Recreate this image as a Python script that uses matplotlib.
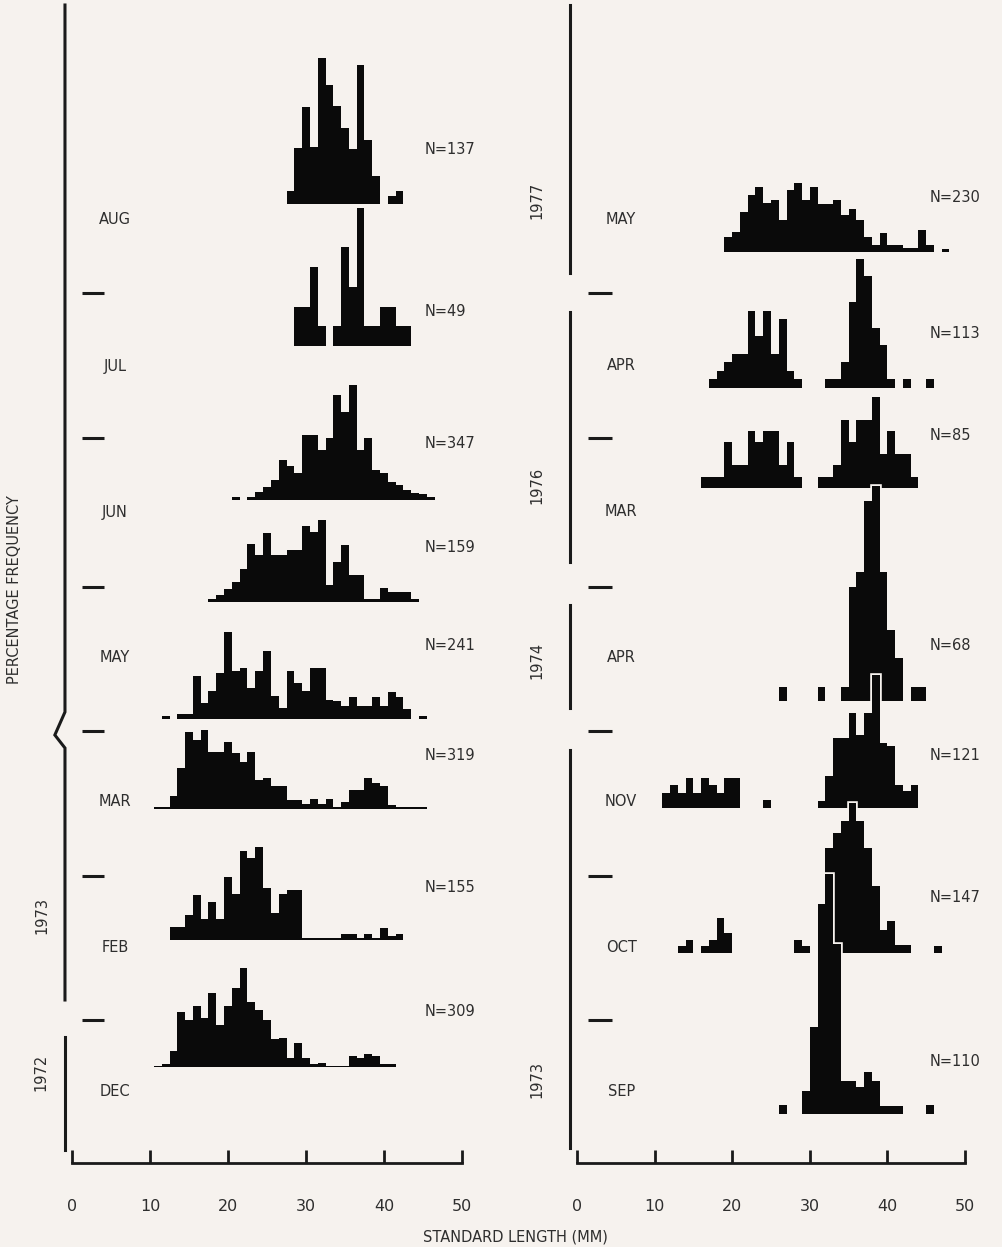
import numpy as np
import matplotlib
matplotlib.use("Agg")
import matplotlib.pyplot as plt

# ------------------------------------------------------------------
# DATA  (percentage frequency per 1-mm standard-length class)
# each histogram: lower edge of first class (mm) + list of class values
# ------------------------------------------------------------------
# left panel (1972-1973)
aug_start = 27.5
aug_pct = [1.3, 5.6, 9.7, 5.7, 14.6, 11.9, 9.8, 7.6, 5.5, 13.9, 6.4, 2.8, 0, 0.8, 1.3]
jul_start = 28.5
jul_pct = [3.9, 3.9, 7.9, 2.0, 0, 2.0, 9.9, 5.9, 13.8, 2.0, 2.0, 3.9, 3.9, 2.0, 2.0]
jun_start = 20.5
jun_pct = [0.3, 0, 0.3, 0.8, 1.3, 2.0, 4.0, 3.4, 2.7, 6.5, 6.5, 5.0, 6.2, 10.5, 8.8,
           11.5, 5.0, 6.2, 3.0, 2.7, 1.8, 1.5, 1.0, 0.7, 0.6, 0.3]
may2_start = 17.5
may2_pct = [0.3, 0.7, 1.3, 2.0, 3.3, 5.8, 4.7, 6.9, 4.7, 4.7, 5.2, 5.2, 7.6, 7.0, 8.2,
            1.7, 4.0, 5.7, 2.7, 2.7, 0.3, 0.3, 1.4, 1.0, 1.0, 1.0, 0.3]
may_start = 11.5
may_pct = [0.3, 0, 0.5, 0.5, 4.3, 1.6, 2.8, 4.6, 8.7, 4.8, 5.1, 3.1, 4.8, 6.8, 2.3,
           1.1, 4.8, 3.6, 2.8, 5.1, 5.1, 1.9, 1.8, 1.3, 2.2, 1.3, 1.3, 2.2, 1.3, 2.7,
           2.2, 1.0, 0, 0.3]
mar_start = 10.5
mar_pct = [0.2, 0.2, 1.3, 4.1, 7.7, 6.9, 7.9, 5.7, 5.7, 6.7, 5.6, 4.7, 5.7, 2.9, 3.1,
           2.3, 2.3, 0.9, 0.9, 0.5, 1.0, 0.5, 1.0, 0.2, 0.7, 1.9, 1.9, 3.1, 2.6, 2.3,
           0.4, 0.2, 0.2, 0.2, 0.2]
feb_start = 12.5
feb_pct = [1.3, 1.3, 2.5, 4.5, 2.1, 3.8, 2.1, 6.3, 4.6, 8.9, 8.2, 9.3, 5.2, 2.7, 4.6,
           5.0, 5.0, 0.2, 0.2, 0.2, 0.2, 0.2, 0.6, 0.6, 0.2, 0.6, 0.2, 1.2, 0.4, 0.6]
dec_start = 10.5
dec_pct = [0.15, 0.3, 1.6, 5.5, 4.7, 6.1, 4.9, 7.4, 4.2, 6.1, 7.9, 9.9, 6.5, 5.7, 4.7,
           2.8, 2.9, 0.9, 2.4, 0.9, 0.3, 0.4, 0.15, 0.15, 0.15, 1.1, 0.9, 1.3, 1.1, 0.3, 0.3]

# right panel (1973-1977)
may77_start = 19
may77_pct = [1.5, 2.0, 4.0, 5.7, 6.5, 4.9, 5.2, 3.2, 6.2, 6.9, 5.2, 6.5, 4.8, 4.8, 5.2,
             3.7, 4.3, 3.2, 1.5, 0.7, 1.9, 0.7, 0.7, 0.4, 0.4, 2.2, 0.7, 0, 0.3]
apr76_start = 17
apr76_pct = [0.9, 1.7, 2.6, 3.4, 3.4, 7.7, 5.2, 7.7, 3.4, 6.9, 1.7, 0.9, 0, 0, 0,
             0.9, 0.9, 2.6, 8.6, 12.9, 11.2, 6.0, 4.3, 0.9, 0, 0.9, 0, 0, 0.9]
mar76_start = 16
mar76_pct = [1.1, 1.1, 1.1, 4.6, 2.3, 2.3, 5.7, 4.6, 5.7, 5.7, 2.3, 4.6, 1.1, 0, 0,
             1.1, 1.1, 2.3, 6.8, 4.6, 6.8, 6.8, 9.1, 3.4, 5.7, 3.4, 3.4, 1.1]
apr74_start = 26
apr74_pct = [1.4, 0, 0, 0, 0, 1.4, 0, 0, 1.4, 11.4, 12.9, 20.0, 21.5, 12.9, 7.1, 4.3,
             0, 1.4, 1.4]
nov73_start = 11
nov73_pct = [1.5, 2.3, 1.5, 3.0, 1.5, 3.0, 2.3, 1.5, 3.0, 3.0, 0, 0, 0, 0.8, 0, 0, 0,
             0, 0, 0, 0.7, 3.2, 7.0, 7.0, 9.5, 7.3, 9.5, 13.3, 6.5, 6.2, 2.3, 1.7, 2.3]
oct73_start = 13
oct73_pct = [0.7, 1.3, 0, 0.7, 1.3, 3.5, 2.0, 0, 0, 0, 0, 0, 0, 0, 0, 1.3, 0.7, 0, 0,
             10.5, 12.0, 13.2, 15.0, 13.2, 10.5, 6.7, 2.3, 3.2, 0.8, 0.8, 0, 0, 0, 0.7]
sep73_start = 26
sep73_pct = [0.9, 0, 0, 2.3, 8.7, 21.0, 24.0, 17.0, 3.3, 3.3, 2.7, 4.2, 3.3, 0.8,
             0.8, 0.8, 0, 0, 0, 0.9]

left_months = ["AUG", "JUL", "JUN", "MAY", "MAR", "FEB", "DEC"]
right_months = ["MAY", "APR", "MAR", "APR", "NOV", "OCT", "SEP"]
left_n = ["N=137", "N=49", "N=347", "N=159", "N=241", "N=319", "N=155", "N=309"]
right_n = ["N=230", "N=113", "N=85", "N=68", "N=121", "N=147", "N=110"]
x_ticks = [0, 10, 20, 30, 40, 50]

# ------------------------------------------------------------------
# LAYOUT
# ------------------------------------------------------------------
W, H, DPI = 1003, 1247, 100
BG = "#f6f2ee"
INK = "#0a0a0a"
TXT = "#2e2e2e"
AXIS_Y = 1163          # pixel row of the length axis
PXU = 10.0             # pixels per percent unit
FS = 10.5

plt.rcParams["font.family"] = ["DejaVu Sans"]

fig = plt.figure(figsize=(W / DPI, H / DPI), dpi=DPI, facecolor=BG)


def make_panel(zero_px, px_per_mm, xlo=-2.5, xhi=54):
    x0 = zero_px + xlo * px_per_mm
    x1 = zero_px + xhi * px_per_mm
    ax = fig.add_axes([x0 / W, (H - AXIS_Y) / H, (x1 - x0) / W, AXIS_Y / H])
    ax.set_xlim(xlo, xhi)
    ax.set_ylim(0, AXIS_Y / PXU)
    ax.patch.set_alpha(0)
    for s in ("left", "right", "top"):
        ax.spines[s].set_visible(False)
    ax.spines["bottom"].set_bounds(0, 50)
    ax.spines["bottom"].set_linewidth(2.0)
    ax.spines["bottom"].set_color("#1a1a1a")
    ax.set_yticks([])
    ax.set_xticks(x_ticks)
    ax.set_xticklabels([str(t) for t in x_ticks])
    ax.tick_params(axis="x", direction="in", length=9.5, width=2.0, color="#1a1a1a",
                   pad=26, labelsize=11.5, labelcolor=TXT)
    return ax


def yv(py):
    return (AXIS_Y - py) / PXU


axL = make_panel(72, 7.8)
axR = make_panel(577, 7.76)


def draw_hists(ax, hists, baselines_px):
    for i, ((start, vals), bpx) in enumerate(zip(hists, baselines_px)):
        v = np.asarray(vals, dtype=float)
        edges = start + np.arange(len(v) + 1)
        off = yv(bpx)
        ax.stairs(v + off, edges, baseline=off, fill=False, color=BG, lw=2.6,
                  zorder=2 + 2 * i)
        ax.stairs(v + off, edges, baseline=off, fill=True, color=INK, lw=0,
                  zorder=3 + 2 * i)


left_hists = [(aug_start, aug_pct), (jul_start, jul_pct), (jun_start, jun_pct),
              (may2_start, may2_pct), (may_start, may_pct), (mar_start, mar_pct),
              (feb_start, feb_pct), (dec_start, dec_pct)]
left_base = [204, 346, 500, 602, 719, 809, 940, 1067]
right_hists = [(may77_start, may77_pct), (apr76_start, apr76_pct),
               (mar76_start, mar76_pct), (apr74_start, apr74_pct),
               (nov73_start, nov73_pct), (oct73_start, oct73_pct),
               (sep73_start, sep73_pct)]
right_base = [252, 388, 488, 701, 808, 953, 1114]

draw_hists(axL, left_hists, left_base)
draw_hists(axR, right_hists, right_base)

# month labels and short tick dashes
month_y = [220, 366, 512, 657, 802, 947, 1092]
dash_y = [293, 438, 587, 731, 876, 1020]
for ax, months, xm, (d0, d1) in ((axL, left_months, 5.5, (1.3, 4.1)),
                                  (axR, right_months, 5.7, (1.4, 4.5))):
    for m, y in zip(months, month_y):
        ax.text(xm, yv(y), m, ha="center", va="center", fontsize=FS, color=TXT)
    for y in dash_y:
        ax.plot([d0, d1], [yv(y), yv(y)], color="#1a1a1a", lw=2.2,
                solid_capstyle="butt")

# N labels
left_n_y = [150, 311, 444, 548, 645, 755, 888, 1012]
right_n_y = [197, 333, 435, 645, 755, 897, 1062]
for lab, y in zip(left_n, left_n_y):
    axL.text((425 - 72) / 7.8, yv(y), lab, ha="left", va="center", fontsize=FS,
             color=TXT)
for lab, y in zip(right_n, right_n_y):
    axR.text((930 - 577) / 7.76, yv(y), lab, ha="left", va="center", fontsize=FS,
             color=TXT, clip_on=False)

# vertical year brackets
xl = -0.9
axL.plot([xl, xl, -2.2, xl, xl], [yv(5), yv(712), yv(735), yv(748), yv(1000)],
         color="#1a1a1a", lw=2.2, solid_joinstyle="miter", clip_on=False)
axL.plot([xl, xl], [yv(1037), yv(1150)], color="#1a1a1a", lw=2.2)
for (a, b) in ((5, 273), (312, 562), (605, 708), (750, 1148)):
    axR.plot([xl, xl], [yv(a), yv(b)], color="#1a1a1a", lw=2.2)

# year labels
for x, y, s in ((42, 915, "1973"), (41, 1072, "1972"), (537, 200, "1977"),
                (537, 485, "1976"), (537, 660, "1974"), (537, 1080, "1973")):
    fig.text(x / W, 1 - y / H, s, rotation=90, ha="center", va="center",
             fontsize=FS, color=TXT)

fig.text(15 / W, 1 - 590 / H, "PERCENTAGE FREQUENCY", rotation=90, ha="center",
         va="center", fontsize=FS, color=TXT)
fig.text(515 / W, 1 - 1237 / H, "STANDARD LENGTH (MM)", ha="center", va="center",
         fontsize=FS, color=TXT)

fig.savefig("out.png", dpi=DPI, facecolor=BG)
